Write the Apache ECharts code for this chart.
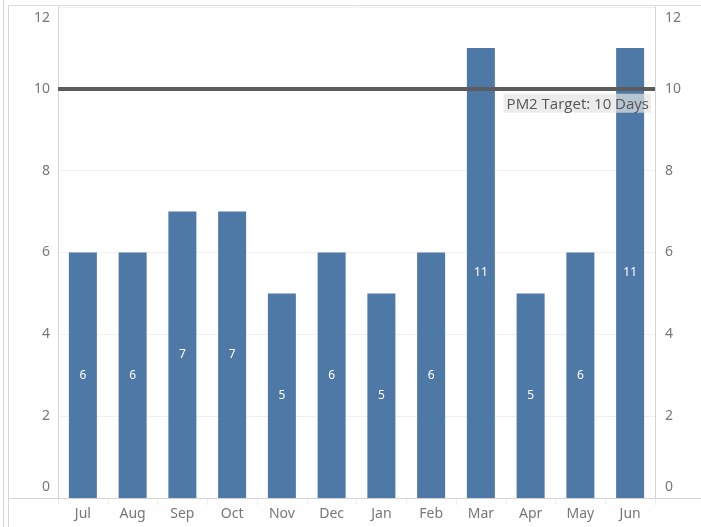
<!DOCTYPE html>
<html>
<head>
<meta charset="utf-8">
<script src="https://cdn.jsdelivr.net/npm/echarts@6/dist/echarts.min.js"></script>
<style>
  html, body { margin: 0; padding: 0; background: #fff; }
  #chart { width: 701px; height: 527px; }
</style>
</head>
<body>
<div id="chart"></div>
<script>
// Monthly values (Jul to Jun)
const months = ['Jul', 'Aug', 'Sep', 'Oct', 'Nov', 'Dec', 'Jan', 'Feb', 'Mar', 'Apr', 'May', 'Jun'];
const days = [6, 6, 7, 7, 5, 6, 5, 6, 11, 5, 6, 11];
const targetDays = 10;
const targetLabel = 'PM2 Target: 10 Days';
const yTicks = [0, 2, 4, 6, 8, 10, 12];

const FONT = '"Noto Sans", "Open Sans", sans-serif';
const chart = echarts.init(document.getElementById('chart'), null, { renderer: 'canvas' });

const valueAxis = (pos) => ({
  type: 'value',
  position: pos,
  min: yTicks[0],
  max: yTicks[yTicks.length - 1],
  interval: yTicks[1] - yTicks[0],
  axisLine: { show: true, lineStyle: { color: '#d4d4d4', width: 1 } },
  axisTick: { show: false },
  splitLine: { show: pos === 'left', lineStyle: { color: '#f0f0f0', width: 1 } },
  axisLabel: {
    color: '#777',
    fontFamily: FONT,
    fontSize: 14,
    margin: pos === 'left' ? 8 : 10,
    verticalAlignMinLabel: 'bottom',
    verticalAlignMaxLabel: 'top',
    lineHeight: 22
  }
});

chart.setOption({
  animation: false,
  grid: { left: 58, right: 46, top: 7, bottom: 29, containLabel: false },
  xAxis: {
    type: 'category',
    data: months,
    axisLine: { show: false },
    axisTick: { show: true, length: 7, lineStyle: { color: '#eeeeee' } },
    axisLabel: { color: '#777', fontFamily: FONT, fontSize: 14, margin: 9 }
  },
  yAxis: [valueAxis('left'), valueAxis('right')],
  graphic: [
    { type: 'line', shape: { x1: 3.5, y1: 0, x2: 3.5, y2: 527 }, style: { stroke: '#c9d9ea', lineWidth: 1 }, silent: true },
    { type: 'line', shape: { x1: 8.5, y1: 5, x2: 8.5, y2: 527 }, style: { stroke: '#d4d4d4', lineWidth: 1 }, silent: true },
    { type: 'line', shape: { x1: 8, y1: 5.5, x2: 701, y2: 5.5 }, style: { stroke: '#dcdce6', lineWidth: 1 }, silent: true },
    { type: 'line', shape: { x1: 8, y1: 498.5, x2: 701, y2: 498.5 }, style: { stroke: '#d4d4d4', lineWidth: 1 }, silent: true, z: 10 }
  ],
  series: [{
    type: 'bar',
    data: days,
    barWidth: 28,
    itemStyle: { color: '#4e79a7' },
    label: {
      show: true,
      position: 'inside',
      color: '#fff',
      fontFamily: FONT,
      fontSize: 12
    },
    markLine: {
      silent: true,
      symbol: ['none', 'none'],
      lineStyle: { color: '#5c5c5c', width: 4, type: 'solid' },
      label: {
        show: true,
        position: 'insideEndBottom',
        formatter: targetLabel,
        color: '#555',
        fontFamily: '"Open Sans", "Noto Sans", sans-serif',
        fontSize: 15,
        backgroundColor: 'rgba(228,228,228,0.7)',
        padding: [3, 2, 1, 3],
        distance: [4, 5]
      },
      data: [{ yAxis: targetDays }]
    }
  }]
});
</script>
</body>
</html>
